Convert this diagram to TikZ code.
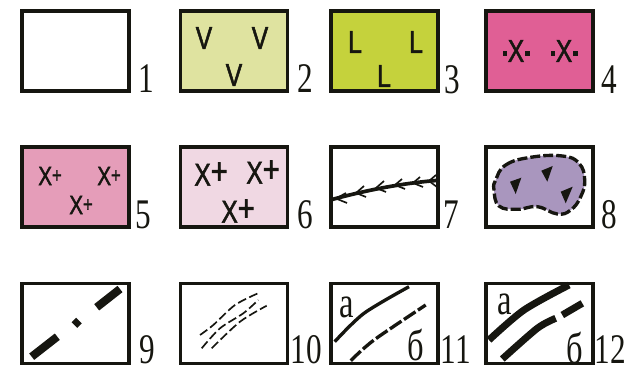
\documentclass[tikz,border=0pt]{standalone}
\usepackage{xcolor}
\usepackage{fontspec}
\usepackage{tikz}
\setmainfont{Liberation Serif}
\newfontfamily\lblfont[FakeStretch=0.74]{Liberation Serif}
\newfontfamily\signfont[FakeStretch=0.78,FakeBold=1.6]{Liberation Sans}
\definecolor{myink}{RGB}{22,22,16}
\definecolor{myvolc}{RGB}{223,227,160}
\definecolor{mybasalt}{RGB}{197,210,60}
\definecolor{mygranite}{RGB}{224,95,149}
\definecolor{mypink}{RGB}{229,157,185}
\definecolor{mypale}{RGB}{240,216,227}
\definecolor{mylilac}{RGB}{169,150,190}
\newcommand{\xsmall}{X\raisebox{1.5pt}{\fontsize{12}{12}\selectfont+}}
\newcommand{\xlarge}{X\raisebox{1pt}{\fontsize{21}{21}\selectfont+}}
\newcommand{\xdots}{\rule[3.6pt]{2.6pt}{2.6pt}\kern0.4pt X\kern0.4pt\rule[3.6pt]{2.6pt}{2.6pt}}
\tikzset{
  legbox/.style={rectangle, draw=myink, line width=2.1pt, minimum width=2.14cm, minimum height=1.6cm, inner sep=0pt},
  lbl/.style={inner sep=0pt, text=myink, font=\lblfont\fontsize{24}{24}\selectfont},
  letter/.style={inner sep=0pt, text=myink, font=\lblfont\fontsize{25}{25}\selectfont},
  sign/.style={inner sep=0pt, text=myink, font=\signfont\fontsize{18}{18}\selectfont},
  signs/.style={inner sep=0pt, text=myink, font=\signfont\fontsize{15}{15}\selectfont},
  signl/.style={inner sep=0pt, text=myink, font=\signfont\fontsize{18}{18}\selectfont},
  fault/.style={draw=myink, line cap=butt}
}
\begin{document}
\begin{tikzpicture}[x=0.02cm, y=-0.02cm]
  \useasboundingbox (0,0) rectangle (628,371);

  % first row
  \node[legbox, fill=white] (b1) at (75.5,51) {};
  \node[legbox, fill=myvolc] (b2) at (234,51) {};
  \node[legbox, fill=mybasalt] (b3) at (384.5,51) {};
  \node[legbox, fill=mygranite] (b4) at (539.5,51) {};
  \node[lbl] (l1) at (146,79) {1};
  \node[lbl] (l2) at (305,79) {2};
  \node[lbl] (l3) at (452,80) {3};
  \node[lbl] (l4) at (609,80) {4};
  \node[sign] (v1) at (204,38) {V};
  \node[sign] (v2) at (260,38) {V};
  \node[sign] (v3) at (234,75) {V};
  \node[sign] (s1) at (355,42) {L};
  \node[sign] (s2) at (416,42) {L};
  \node[sign] (s3) at (384,76) {L};
  \node[sign] (d1) at (516,51) {\xdots};
  \node[sign] (d2) at (564,51) {\xdots};

  % second row
  \node[legbox, fill=mypink] (b5) at (75.5,187) {};
  \node[legbox, fill=mypale] (b6) at (234,187) {};
  \node[legbox, fill=white] (b7) at (384.5,187) {};
  \node[legbox, fill=white] (b8) at (539.5,187) {};
  \node[lbl] (l5) at (143,215) {5};
  \node[lbl] (l6) at (305,215) {6};
  \node[lbl] (l7) at (451,215) {7};
  \node[lbl] (l8) at (609,215) {8};
  \node[signs] (p1) at (50,176) {\xsmall};
  \node[signs] (p2) at (109,176) {\xsmall};
  \node[signs] (p3) at (81,205) {\xsmall};
  \node[signl] (q1) at (211,174) {\xlarge};
  \node[signl] (q2) at (263,172) {\xlarge};
  \node[signl] (q3) at (238,211) {\xlarge};

  % barbed line
  \draw[fault, line width=2.1pt] (332,199.5) .. controls (360,192) and (395,184) .. (436,180.5);
  \draw[fault, line width=0.95pt]
    (346,193) -- (336,198.5) -- (347,203)
    (364,186) -- (356,193) -- (366,197)
    (384,181) -- (376,188) -- (386,192)
    (402,179) -- (395,185) -- (405,189)
    (420,177) -- (413,183) -- (423,187)
    (436,175) -- (429,181) -- (437,187);

  % blob with dashed rim
  \draw[myink, fill=mylilac, line width=1.9pt, dash pattern=on 5.7pt off 1.7pt]
    plot[smooth cycle, tension=0.75] coordinates {(495.7,180) (505.7,165) (530.7,157.3) (562.3,156) (579,163.3) (584.7,180) (580.7,196.7) (570.7,210) (557.3,214) (537.3,206.7) (517.3,209.3) (499,206) (494,190)};
  \fill[myink] (510,181.7) -- (521.3,177.7) -- (515.7,194) -- cycle;
  \fill[myink] (541.3,170.7) -- (552.7,166) -- (547.3,181.7) -- cycle;
  \fill[myink] (560.7,191.7) -- (572.7,186.7) -- (565.7,203.3) -- cycle;

  % third row
  \node[legbox, fill=white] (b9) at (75.5,323.5) {};
  \node[legbox, fill=white] (b10) at (234,323.5) {};
  \node[legbox, fill=white] (b11) at (384.5,323.5) {};
  \node[legbox, fill=white] (b12) at (539.5,323.5) {};
  \node[lbl] (l9) at (147,350) {9};
  \node[lbl] (l10) at (306,350) {10};
  \node[lbl] (l11) at (456,350) {11};
  \node[lbl] (l12) at (610,350) {12};

  \draw[fault, line width=4.6pt] (31.7,356.7) -- (57.3,336.7) (74.5,325) -- (79,320.5) (96.7,307.3) -- (120,289);

  \draw[fault, line width=0.95pt, dash pattern=on 5.1pt off 2pt]
    plot[smooth] coordinates {(200,335) (213.3,325) (235,305) (258,293.3)};
  \draw[fault, line width=0.95pt, dash pattern=on 5.1pt off 2pt]
    plot[smooth] coordinates {(201.7,348.3) (220,328.3) (243.3,313.3) (258.3,300)};
  \draw[fault, line width=0.95pt, dash pattern=on 5.1pt off 2pt]
    plot[smooth] coordinates {(211.7,348.3) (240,321.7) (266.7,305.7)};

  \draw[fault, line width=1.9pt] plot[smooth] coordinates {(334.7,341.7) (364,313.3) (409,286.7)};
  \draw[fault, line width=1.9pt, dash pattern=on 7.9pt off 1.7pt] plot[smooth] coordinates {(350.7,360.7) (374,340) (425.7,305)};
  \node[letter] (a1) at (347,307) {а};
  \node[letter] (c1) at (416,345) {б};

  \draw[fault, line width=4pt] plot[smooth] coordinates {(489,340) (524,310) (569,285)};
  \draw[fault, line width=4pt] plot[smooth] coordinates {(502.3,359) (537.3,328.3) (555.7,318.3)};
  \draw[fault, line width=4pt] (562.3,315) -- (582.3,303.3);
  \node[letter] (a2) at (505,304) {а};
  \node[letter] (c2) at (575,348) {б};
\end{tikzpicture}
\end{document}
